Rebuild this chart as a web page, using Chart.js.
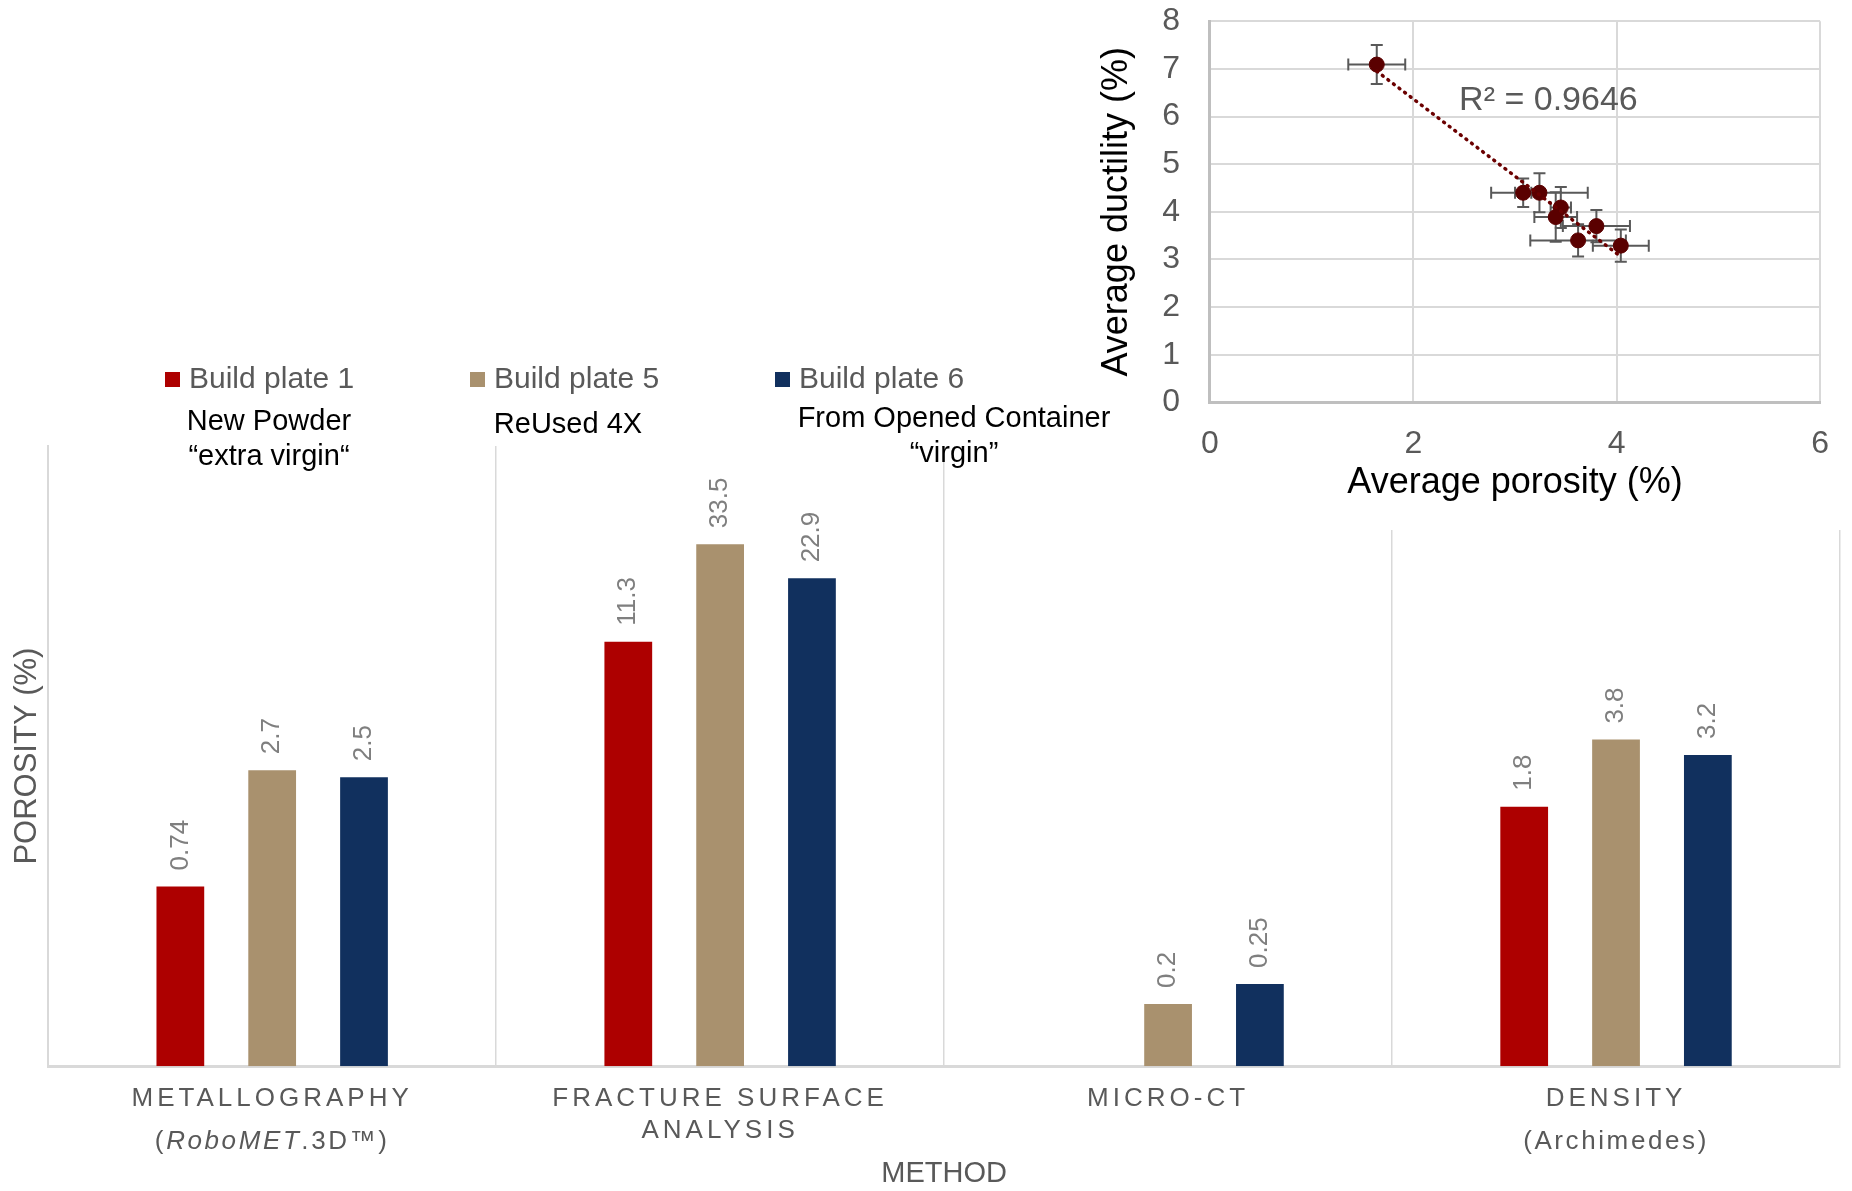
<!DOCTYPE html>
<html>
<head>
<meta charset="utf-8">
<script src="https://cdn.jsdelivr.net/npm/chart.js@4.4.1/dist/chart.umd.min.js"></script>
<style>
  body { margin: 0; background: #fff; }
  #wrap { position: relative; width: 1852px; height: 1191px; overflow: hidden; }
  #barras { position: absolute; left: 0; top: 0; }
  #inserto { position: absolute; left: 1095px; top: -28px; }
</style>
</head>
<body>
<div id="wrap">
  <canvas id="barras" width="1852" height="1191"></canvas>
  <canvas id="inserto" width="757" height="558"></canvas>
</div>
<script>
// datos del grafico de barras (porosidad por metodo)
const metodos = [
  ["METALLOGRAPHY", "(RoboMET.3D™)"],
  ["FRACTURE SURFACE", "ANALYSIS"],
  ["MICRO-CT"],
  ["DENSITY", "(Archimedes)"]
];
const placa1 = [0.74, 11.3, null, 1.8];
const placa5 = [2.7, 33.5, 0.2, 3.8];
const placa6 = [2.5, 22.9, 0.25, 3.2];
const nombresSeries = ["Build plate 1", "Build plate 5", "Build plate 6"];
const notasSeries = [["New Powder", "“extra virgin“"], ["ReUsed 4X"], ["From Opened Container", "“virgin”"]];
const coloresSeries = ["#ad0000", "#a9916e", "#11305e"];

// datos del grafico pequeño (ductilidad vs porosidad)
const porosidad = [1.64, 3.08, 3.24, 3.45, 3.40, 3.80, 3.62, 4.04];
const errPorosidad = [0.28, 0.08, 0.475, 0.1, 0.21, 0.33, 0.47, 0.275];
const ductilidad = [7.09, 4.40, 4.40, 4.09, 3.89, 3.70, 3.40, 3.29];
const errDuctilidad = [0.41, 0.30, 0.41, 0.43, 0.52, 0.34, 0.34, 0.34];
const tendX = [1.64, 4.04];
const tendY = [6.95, 3.06];
const textoR2 = "R² = 0.9646";

const fuente = "'Liberation Sans', Arial, sans-serif";
const gris = "#595959";

// etiquetas de valor, leyenda, notas y categorias
const dibujosBarras = {
  id: "dibujosBarras",
  afterDatasetsDraw(chart) {
    const ctx = chart.ctx;
    ctx.save();
    ctx.font = "26px " + fuente;
    ctx.fillStyle = "#7f7f7f";
    ctx.textAlign = "left";
    ctx.textBaseline = "middle";
    chart.data.datasets.forEach((ds, i) => {
      const meta = chart.getDatasetMeta(i);
      meta.data.forEach((bar, j) => {
        const v = ds.data[j];
        if (v == null) return;
        ctx.save();
        ctx.translate(bar.x, bar.y - 16);
        ctx.rotate(-Math.PI / 2);
        ctx.fillText(String(v), 0, 0);
        ctx.restore();
      });
    });
    ctx.restore();
  },
  afterDraw(chart) {
    const ctx = chart.ctx;
    const area = chart.chartArea;
    const x = chart.scales.x;
    ctx.save();

    // leyenda
    ctx.textBaseline = "middle";
    chart.data.datasets.forEach((ds, i) => {
      const bx = 165 + i * 305;
      ctx.fillStyle = ds.backgroundColor;
      ctx.fillRect(bx, 372, 15, 15);
      ctx.fillStyle = gris;
      ctx.font = "30px " + fuente;
      ctx.textAlign = "left";
      ctx.fillText(ds.label, bx + 24, 380);
    });

    // notas bajo la leyenda
    const notaX = [269, 568, 954];
    const notaY = [422, 425, 419];
    ctx.fillStyle = "#000";
    ctx.font = "29px " + fuente;
    ctx.textAlign = "center";
    notasSeries.forEach((lineas, i) => {
      lineas.forEach((t, k) => ctx.fillText(t, notaX[i], notaY[i] + k * 35));
    });

    // etiquetas de categoria
    const salto = [43, 32, 0, 43];
    ctx.fillStyle = gris;
    metodos.forEach((lineas, i) => {
      const cx = x.getPixelForValue(i);
      lineas.forEach((t, k) => {
        ctx.letterSpacing = t === t.toUpperCase() ? "4px" : "2.6px";
        const y = area.bottom + 33 + k * salto[i];
        const partes = t.split(/(RoboMET)/).filter(p => p);
        const fuentes = partes.map(p => (p === "RoboMET" ? "italic " : "") + "26px " + fuente);
        let ancho = 0;
        partes.forEach((p, n) => { ctx.font = fuentes[n]; ancho += ctx.measureText(p).width; });
        let px = cx - ancho / 2;
        ctx.textAlign = "left";
        partes.forEach((p, n) => {
          ctx.font = fuentes[n];
          ctx.fillText(p, px, y);
          px += ctx.measureText(p).width;
        });
      });
    });
    ctx.letterSpacing = "0px";
    ctx.restore();
  }
};

new Chart(document.getElementById("barras"), {
  type: "bar",
  data: {
    labels: metodos.map(m => m.join(" ")),
    datasets: [
      { label: nombresSeries[0], data: placa1, backgroundColor: coloresSeries[0] },
      { label: nombresSeries[1], data: placa5, backgroundColor: coloresSeries[1] },
      { label: nombresSeries[2], data: placa6, backgroundColor: coloresSeries[2] }
    ]
  },
  options: {
    responsive: false,
    animation: false,
    datasets: { bar: { categoryPercentage: 0.615, barPercentage: 0.52 } },
    layout: { padding: { top: 446, right: 12, left: 0, bottom: 0 } },
    scales: {
      x: {
        grid: { color: "#d9d9d9", lineWidth: 1.5, offset: true, drawTicks: false },
        border: { color: "#d9d9d9", width: 3 },
        ticks: { display: false },
        title: { display: true, text: "METHOD", color: gris, font: { family: fuente, size: 29 }, padding: { top: 90, bottom: 0 } }
      },
      y: {
        type: "logarithmic",
        min: 0.1,
        max: 100,
        grid: { display: false },
        border: { color: "#d9d9d9", width: 2 },
        ticks: { display: false },
        title: { display: true, text: "POROSITY (%)", color: gris, font: { family: fuente, size: 31 }, padding: { top: 9, bottom: -6 } }
      }
    },
    plugins: { legend: { display: false }, tooltip: { enabled: false } }
  },
  plugins: [dibujosBarras]
});

// grafico pequeño
const dibujosInserto = {
  id: "dibujosInserto",
  beforeDraw(chart) {
    const ctx = chart.ctx;
    ctx.save();
    ctx.fillStyle = "#fff";
    ctx.fillRect(45, 0, chart.width - 45, chart.height);
    ctx.restore();
  },
  beforeDatasetsDraw(chart) {
    const ctx = chart.ctx;
    const sx = chart.scales.x, sy = chart.scales.y;
    ctx.save();
    ctx.strokeStyle = gris;
    ctx.lineWidth = 2;
    const cap = 6;
    porosidad.forEach((px, i) => {
      const x = sx.getPixelForValue(px), y = sy.getPixelForValue(ductilidad[i]);
      const x1 = sx.getPixelForValue(px - errPorosidad[i]), x2 = sx.getPixelForValue(px + errPorosidad[i]);
      const y1 = sy.getPixelForValue(ductilidad[i] - errDuctilidad[i]), y2 = sy.getPixelForValue(ductilidad[i] + errDuctilidad[i]);
      ctx.beginPath();
      ctx.moveTo(x1, y); ctx.lineTo(x2, y);
      ctx.moveTo(x1, y - cap); ctx.lineTo(x1, y + cap);
      ctx.moveTo(x2, y - cap); ctx.lineTo(x2, y + cap);
      ctx.moveTo(x, y1); ctx.lineTo(x, y2);
      ctx.moveTo(x - cap, y1); ctx.lineTo(x + cap, y1);
      ctx.moveTo(x - cap, y2); ctx.lineTo(x + cap, y2);
      ctx.stroke();
    });
    ctx.restore();
  },
  afterDraw(chart) {
    const ctx = chart.ctx;
    ctx.save();
    ctx.font = "34px " + fuente;
    ctx.fillStyle = gris;
    ctx.textAlign = "left";
    ctx.textBaseline = "middle";
    ctx.fillText(textoR2, chart.scales.x.getPixelForValue(2.45), chart.scales.y.getPixelForValue(6.34));
    ctx.restore();
  }
};

new Chart(document.getElementById("inserto"), {
  type: "scatter",
  data: {
    datasets: [
      {
        label: "Ductility",
        data: porosidad.map((p, i) => ({ x: p, y: ductilidad[i] })),
        backgroundColor: "#5a0000",
        borderColor: "#5a0000",
        pointRadius: 7.5,
        order: 1
      },
      {
        type: "line",
        label: "Tendencia",
        data: tendX.map((t, i) => ({ x: t, y: tendY[i] })),
        borderColor: "#6b0000",
        borderWidth: 3.5,
        borderDash: [1, 6],
        borderCapStyle: "round",
        pointRadius: 0,
        fill: false,
        order: 0
      }
    ]
  },
  options: {
    responsive: false,
    animation: false,
    layout: { padding: { top: 20, right: 17, left: 0, bottom: 25 } },
    scales: {
      x: {
        type: "linear",
        min: 0,
        max: 6,
        ticks: { stepSize: 2, padding: 23, color: gris, font: { family: fuente, size: 32 } },
        grid: { color: "#d9d9d9", lineWidth: 2, drawTicks: false },
        border: { color: "#bfbfbf", width: 3 },
        title: { display: true, text: "Average porosity (%)", color: "#000", font: { family: fuente, size: 36 }, padding: { top: -25, bottom: 0 } }
      },
      y: {
        min: 0,
        max: 8,
        ticks: { stepSize: 1, padding: 30, color: gris, font: { family: fuente, size: 32 } },
        grid: { color: "#d9d9d9", lineWidth: 2, drawTicks: false },
        border: { color: "#bfbfbf", width: 3 },
        title: { display: true, text: "Average ductility (%)", color: "#000", font: { family: fuente, size: 36 }, padding: { top: 0, bottom: -6 } }
      }
    },
    plugins: { legend: { display: false }, tooltip: { enabled: false } }
  },
  plugins: [dibujosInserto]
});
</script>
</body>
</html>
